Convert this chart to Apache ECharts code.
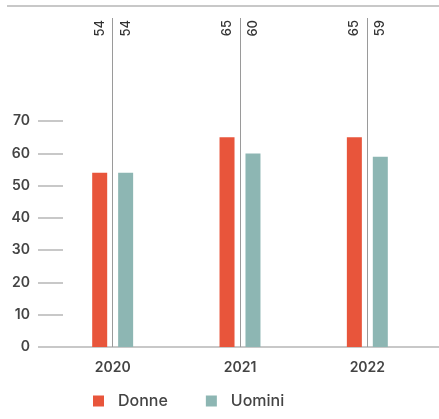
<!DOCTYPE html>
<html>
<head>
<meta charset="utf-8">
<script src="https://cdn.jsdelivr.net/npm/echarts@6/dist/echarts.min.js"></script>
<style>
html,body{margin:0;padding:0;background:#fff;}
#chart{width:439px;height:419px;}
</style>
</head>
<body>
<div id="chart"></div>
<script>
const categories = ['2020', '2021', '2022'];
const donne = [54, 65, 65];
const uomini = [54, 60, 59];
const yTicks = [0, 10, 20, 30, 40, 50, 60, 70];
const yMax = 102;

const FONT = 'Inter';
const RED = '#e8553b';
const TEAL = '#8db6b3';

const chart = echarts.init(document.getElementById('chart'), null, {renderer: 'canvas'});

function ghostLabel(values) {
  return {
    show: true,
    position: 'insideTop',
    distance: 2,
    rotate: 90,
    align: 'right',
    verticalAlign: 'middle',
    fontFamily: FONT,
    fontSize: 13,
    fontWeight: 500,
    color: '#333',
    formatter: p => String(values[p.dataIndex])
  };
}

const option = {
  animation: false,
  backgroundColor: '#fff',
  grid: {left: 49, right: 8, top: 18, bottom: 72, containLabel: false},
  legend: {
    data: ['Donne', 'Uomini'],
    left: 88,
    bottom: 5,
    itemWidth: 11,
    itemHeight: 11,
    itemGap: 38,
    icon: 'rect',
    textStyle: {fontFamily: FONT, fontSize: 16, fontWeight: 500, color: '#444', padding: [0, 0, 0, 9]}
  },
  xAxis: {
    type: 'category',
    data: categories,
    axisLine: {show: false},
    axisTick: {show: false},
    axisLabel: {fontFamily: FONT, fontSize: 14, fontWeight: 600, color: '#444', margin: 14}
  },
  yAxis: {
    type: 'value',
    min: 0,
    max: yMax,
    offset: -14,
    splitLine: {show: false},
    axisLine: {show: false},
    axisTick: {show: true, length: 25, inside: false, customValues: yTicks, lineStyle: {color: '#c8c8c8', width: 2}},
    axisLabel: {customValues: yTicks, fontFamily: FONT, fontSize: 14, fontWeight: 600, color: '#444', margin: 33}
  },
  series: [
    {
      name: 'Donne', type: 'bar', stack: 'd', data: donne, barWidth: 15, barGap: '73%',
      itemStyle: {color: RED}
    },
    {
      name: 'DonneTop', type: 'bar', stack: 'd', silent: true,
      data: donne.map(v => yMax - v), barWidth: 15, barGap: '73%',
      itemStyle: {color: 'rgba(0,0,0,0)'},
      label: ghostLabel(donne)
    },
    {
      name: 'Uomini', type: 'bar', stack: 'u', data: uomini, barWidth: 15, barGap: '73%',
      itemStyle: {color: TEAL}
    },
    {
      name: 'UominiTop', type: 'bar', stack: 'u', silent: true,
      data: uomini.map(v => yMax - v), barWidth: 15, barGap: '73%',
      itemStyle: {color: 'rgba(0,0,0,0)'},
      label: ghostLabel(uomini)
    },
    {
      name: 'dividers', type: 'line', data: [], silent: true,
      markLine: {
        silent: true, symbol: 'none', label: {show: false},
        lineStyle: {color: '#9a9a9a', width: 1, type: 'solid'},
        data: categories.map(c => ({xAxis: c}))
      }
    }
  ]
};
chart.setOption(option);

const y0 = chart.convertToPixel({yAxisIndex: 0}, 0);
chart.setOption({
  graphic: [
    {type: 'line', shape: {x1: 38, y1: y0, x2: 439, y2: y0}, style: {stroke: '#c8c8c8', lineWidth: 2}, z: 1},
    {type: 'line', shape: {x1: 7, y1: 6, x2: 439, y2: 6}, style: {stroke: '#c8c8c8', lineWidth: 2}, z: 1}
  ]
});
</script>
</body>
</html>
